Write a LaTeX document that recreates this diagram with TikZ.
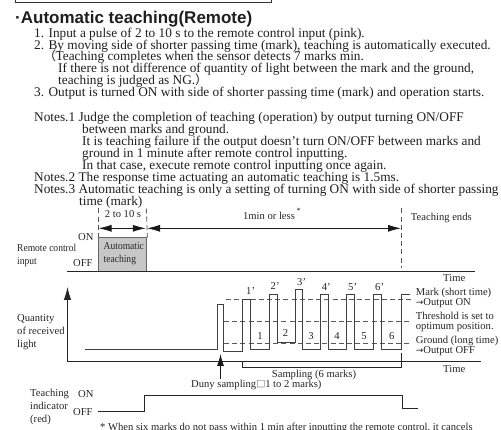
\documentclass[tikz,border=0pt]{standalone}
\usepackage{fontspec}
\setmainfont{Liberation Serif}
\setsansfont{Liberation Sans}
\newfontfamily\cjk{Noto Sans CJK JP}
\newfontfamily\narrowfont[FakeStretch=0.9]{Liberation Serif}
\usetikzlibrary{arrows.meta}
\newcommand{\bodyfs}{\fontsize{13.3}{13.3}\selectfont}
\newcommand{\lblfs}{\fontsize{10.6}{10.6}\selectfont}
\tikzset{
  bodytext/.style={anchor=base west,inner sep=0pt,font=\bodyfs,text=black!88},
  lbl/.style={anchor=base west,inner sep=0pt,font=\lblfs,text=black!85},
  slbl/.style={anchor=base west,inner sep=0pt,font=\narrowfont\lblfs,text=black!85},
  clbl/.style={anchor=base,inner sep=0pt,font=\lblfs,text=black!85},
  thick line/.style={draw=black!85,line width=0.9pt},
  wave/.style={draw=black!75,line width=0.95pt,line join=miter},
  guide/.style={draw=black!65,line width=0.9pt,dash pattern=on 5pt off 3.2pt},
  arrowline/.style={draw=black!90,line width=0.8pt},
  bihead/.style={{Latex[length=13pt,width=7pt]}-{Latex[length=13pt,width=7pt]}},
}
\begin{document}
\begin{tikzpicture}[x=1pt,y=-1pt]
\useasboundingbox (0,0) rectangle (501,430);
\fill[white] (0,0) rectangle (501,430);
% top frame
\draw[draw=black!80,line width=0.9pt] (15.7,-3) -- (15.7,2.7) -- (271.7,2.7) -- (271.7,-3);
% title
\node[anchor=base west,inner sep=0pt,font=\sffamily\bfseries\fontsize{17}{17}\selectfont,text=black!88] (title) at (15,24) {·Automatic teaching(Remote)};
% body
\node[bodytext] (b1) at (34,37.7) {1. Input a pulse of 2 to 10 s to the remote control input (pink).};
\node[bodytext] (b2) at (34,49.3) {2. By moving side of shorter passing time (mark), teaching is automatically executed.};
\node[bodytext] (b3) at (43.5,61) {{\cjk\fontsize{12.5}{12.5}\selectfont （}\hspace{-0.5pt}Teaching completes when the sensor detects 7 marks min.};
\node[bodytext] (b4) at (58,72.7) {If there is not difference of quantity of light between the mark and the ground,};
\node[bodytext] (b5) at (58,85) {teaching is judged as NG.{\cjk\fontsize{12.5}{12.5}\selectfont ）}};
\node[bodytext] (b6) at (34,96.7) {3. Output is turned ON with side of shorter passing time (mark) and operation starts.};
\node[bodytext] (n1) at (34,121.7) {Notes.1 Judge the completion of teaching (operation) by output turning ON/OFF};
\node[bodytext] (n2) at (82,134) {between marks and ground.};
\node[bodytext] (n3) at (82,146) {It is teaching failure if the output doesn’t turn ON/OFF between marks and};
\node[bodytext] (n4) at (82,157.7) {ground in 1 minute after remote control inputting.};
\node[bodytext] (n5) at (82,169.3) {In that case, execute remote control inputting once again.};
\node[bodytext] (n6) at (34,181.7) {Notes.2 The response time actuating an automatic teaching is 1.5ms.};
\node[bodytext] (n7) at (34,193.3) {Notes.3 Automatic teaching is only a setting of turning ON with side of shorter passing};
\node[bodytext] (n8) at (79,205.7) {time (mark)};
% remote control pulse
\node[draw=black!60,fill=black!22,line width=1.1pt,minimum width=48.3pt,minimum height=33.8pt,inner sep=0pt,anchor=north west] (pulse) at (98,237.3) {};
\draw[thick line] (67,271.3) coordinate (t1s) -- (475,271.3) coordinate (t1e);
% vertical dashed guides
\coordinate (g1) at (98,208.5); \coordinate (g2) at (146.3,208.5); \coordinate (g3) at (401.7,208.5);
\draw[guide,line width=0.8pt] (g1) -- (pulse.north west);
\draw[guide,line width=0.8pt] (g2) -- (pulse.north east);
\draw[guide,line width=0.8pt] (g3) -- (401.7,268);
% span arrows
\draw[arrowline,bihead] (98.5,228.3) coordinate (a1) -- (145.8,228.3) coordinate (a2);
\draw[arrowline,bihead] (147,228.3) coordinate (a3) -- (401,228.3) coordinate (a4);
% axis of quantity
\draw[thick line,{Latex[length=13pt,width=7.5pt]}-] (67.5,287) coordinate (ax) -- (67.5,361.7) coordinate (o) -- (480.7,361.7) coordinate (t2e);
% threshold guides
\draw[guide] (226,299.5) coordinate (m1) -- (411.7,299.5) coordinate (m2);
\draw[guide] (224,321.7) coordinate (h1) -- (411.7,321.7) coordinate (h2);
\draw[guide] (224,343.7) coordinate (l1) -- (411.7,343.7) coordinate (l2);
% waveform
\draw[wave] (85,349.3) -- (217.3,349.3) |- (223.5,304) |- (242.7,351.7) |- (250.3,299.7) |- (269.7,349.3)
 |- (277.3,294.3) |- (295,342.3) |- (302.7,289.3) |- (320.7,349.3) |- (328.7,294.3) |- (346.3,349.3)
 |- (354.3,294.3) |- (373.3,349.3) |- (381.7,294.3) |- (401.7,349.3) |- (410.3,294.3);
% sampling bracket
\draw[thick line] (242.7,361.7) -- (242.7,367.3) -- (401.7,367.3) -- (401.7,353);
% dummy sampling arrow
\draw[arrowline,{Latex[length=12pt,width=7pt]}-] (220.5,354) coordinate (d1) -- (220.5,379) coordinate (d2);
% indicator
\draw[thick line] (98,411.7) -- (144.5,411.7) -- (144.5,395) -- (402.7,395) -- (402.7,408.3) -- (418.3,408.3);
% labels
\node[clbl] (l210) at (123,218) {2 to 10 s};
\node[clbl] (lmin) at (269,220) {1min or less};
\node[lbl,font=\fontsize{8}{8}\selectfont] (lstar) at (296.5,214) {*};
\node[lbl] (lend) at (410.7,221) {Teaching ends};
\node[lbl] at (78,240.7) (on1) {ON};
\node[lbl] at (73,267) (off1) {OFF};
\node[slbl] (rc1) at (17,252) {Remote control};
\node[slbl] (rc2) at (17,265) {input};
\node[slbl] (au1) at (103.5,250) {Automatic};
\node[slbl] (au2) at (103.5,262.7) {teaching};
\node[lbl] (time1) at (443,281.7) {Time};
\node[lbl] (q1) at (17,322) {Quantity};
\node[lbl] (q2) at (17,335) {of received};
\node[lbl] (q3) at (17,347.5) {light};
\node[lbl] (p1) at (246,295) {1'};
\node[lbl] (p2) at (270.5,290) {2'};
\node[lbl] (p3) at (297,285.7) {3'};
\node[lbl] (p4) at (321.7,290.7) {4'};
\node[lbl] (p5) at (348,290.7) {5'};
\node[lbl] (p6) at (375,290.7) {6'};
\node[clbl] (i1) at (260,340) {1};
\node[clbl] (i2) at (285.5,336.7) {2};
\node[clbl] (i3) at (311,340) {3};
\node[clbl] (i4) at (337,340) {4};
\node[clbl] (i5) at (364,340) {5};
\node[clbl] (i6) at (391.7,340) {6};
\node[lbl] (r1) at (415.7,296) {Mark (short time)};
\node[lbl] (r2) at (415.7,306) {{\fontspec{DejaVu Sans}\fontsize{9}{9}\selectfont →}Output ON};
\node[lbl] (r3) at (415.7,320) {Threshold is set to};
\node[lbl] (r4) at (415.7,329.5) {optimum position.};
\node[lbl] (r5) at (415.7,344) {Ground (long time)};
\node[lbl] (r6) at (415.7,354) {{\fontspec{DejaVu Sans}\fontsize{9}{9}\selectfont →}Output OFF};
\node[lbl] (time2) at (443,372.3) {Time};
\node[lbl] (samp) at (271.7,377.3) {Sampling (6 marks)};
\node[lbl] (duny) at (191,388) {Duny sampling{\cjk\fontsize{9}{9}\selectfont □}1 to 2 marks)};
\node[lbl] (ti1) at (30,396.7) {Teaching};
\node[lbl] (ti2) at (30,409.3) {indicator};
\node[lbl] (ti3) at (30,422.3) {(red)};
\node[lbl] (on2) at (78,398) {ON};
\node[lbl] (off2) at (73,415) {OFF};
\node[lbl] (foot) at (100,431) {* When six marks do not pass within 1 min after inputting the remote control, it cancels};
\end{tikzpicture}
\end{document}
